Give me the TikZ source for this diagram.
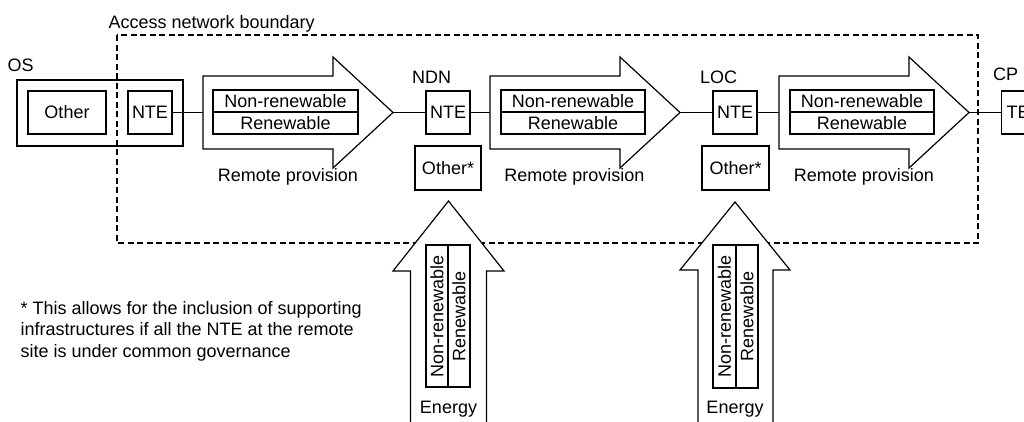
\documentclass[tikz,border=0pt]{standalone}
\usepackage{fontspec}
\setmainfont{Liberation Sans}
\begin{document}
\begin{tikzpicture}[x=1pt,y=-1pt,line width=1.2pt,
  every node/.style={font=\fontsize{18}{21.5}\selectfont},
  box/.style={draw,inner sep=0pt,line width=1.2pt},
  lbl/.style={inner sep=0pt,anchor=base},
  bigarrow/.style={draw,fill=white,line join=miter},
  boundary/.style={draw,line width=1.8pt,dash pattern=on 6pt off 3.5pt},
  wire/.style={draw,line width=1.2pt}]
\useasboundingbox (0,0) rectangle (1024,421);
\clip (0,0) rectangle (1024,421);

% OS
\node[box,minimum width=166pt,minimum height=66pt] (osbox) at (100,113) {};
\node[lbl,anchor=base west] (oslbl) at (7,71) {OS};

% boundary
\draw[boundary] (117,35) rectangle (978,243);
\node[lbl,anchor=base west] (title) at (108,28) {Access network boundary};

\node[box,minimum width=78pt,minimum height=43pt] (osother) at (67,112.5) {Other};
\node[box,minimum width=44pt,minimum height=43pt] (osnte) at (150,112.5) {NTE};

% horizontal arrows
\draw[bigarrow] (203,76) -- (333,76) -- (333,57) -- (393,112.5) -- (333,168) -- (333,149) -- (203,149) -- cycle;
\coordinate (a1tail) at (203,112.5); \coordinate (a1tip) at (393,112.5);
\draw[bigarrow] (490,76) -- (620,76) -- (620,57) -- (680,112.5) -- (620,168) -- (620,149) -- (490,149) -- cycle;
\coordinate (a2tail) at (490,112.5); \coordinate (a2tip) at (680,112.5);
\draw[bigarrow] (779,76) -- (909,76) -- (909,57) -- (969,112.5) -- (909,168) -- (909,149) -- (779,149) -- cycle;
\coordinate (a3tail) at (779,112.5); \coordinate (a3tip) at (969,112.5);

\node[box,minimum width=145pt,minimum height=22pt] (nr1) at (285.5,101) {Non-renewable};
\node[box,minimum width=145pt,minimum height=22pt] (r1) at (285.5,123) {Renewable};
\node[box,minimum width=144pt,minimum height=22pt] (nr2) at (573,101) {Non-renewable};
\node[box,minimum width=144pt,minimum height=22pt] (r2) at (573,123) {Renewable};
\node[box,minimum width=144pt,minimum height=22pt] (nr3) at (862,101) {Non-renewable};
\node[box,minimum width=144pt,minimum height=22pt] (r3) at (862,123) {Renewable};

\node[lbl] (rp1) at (288,181) {Remote provision};
\node[lbl] (rp2) at (574.5,181) {Remote provision};
\node[lbl] (rp3) at (864,181) {Remote provision};

% sites
\node[lbl] (ndnlbl) at (431.5,83) {NDN};
\node[box,minimum width=44pt,minimum height=43pt] (ndnnte) at (448,112.5) {NTE};
\node[box,minimum width=66pt,minimum height=44pt] (ndnother) at (448,168) {Other*};
\node[lbl] (loclbl) at (718.5,83) {LOC};
\node[box,minimum width=44pt,minimum height=43pt] (locnte) at (735,112.5) {NTE};
\node[box,minimum width=67pt,minimum height=44pt] (locother) at (735.5,168) {Other*};
\node[lbl] (cplbl) at (1005.5,80) {CP};
\node[box,anchor=west,minimum height=43pt,inner xsep=5pt,text width=34pt,align=left] (te) at (1001,112.5) {TE};

% connectors
\draw[wire] (osnte.east) -- (a1tail);
\draw[wire] (a1tip) -- (ndnnte.west);
\draw[wire] (ndnnte.east) -- (a2tail);
\draw[wire] (a2tip) -- (locnte.west);
\draw[wire] (locnte.east) -- (a3tail);
\draw[wire] (a3tip) -- (te.west);

% energy arrows
\draw[bigarrow] (410.5,423) -- (410.5,271) -- (393,271) -- (448.5,201) -- (504,271) -- (486.5,271) -- (486.5,423);
\node[box,rotate=90,minimum width=142pt,minimum height=22pt] (env1) at (437,316) {Non-renewable};
\node[box,rotate=90,minimum width=142pt,minimum height=22pt] (er1) at (459,316) {Renewable};
\node[lbl] (en1) at (448.5,413) {Energy};

\draw[bigarrow] (698,423) -- (698,270) -- (680,270) -- (735,202) -- (790,270) -- (773,270) -- (773,423);
\node[box,rotate=90,minimum width=143pt,minimum height=23pt] (env2) at (724.5,316.5) {Non-renewable};
\node[box,rotate=90,minimum width=143pt,minimum height=22pt] (er2) at (747,316.5) {Renewable};
\node[lbl] (en2) at (735,413) {Energy};

% footnote
\node[lbl,anchor=base west] (fn1) at (20,314) {* This allows for the inclusion of supporting};
\node[lbl,anchor=base west] (fn2) at (20,335.5) {infrastructures if all the NTE at the remote};
\node[lbl,anchor=base west] (fn3) at (20,357) {site is under common governance};
\end{tikzpicture}
\end{document}
